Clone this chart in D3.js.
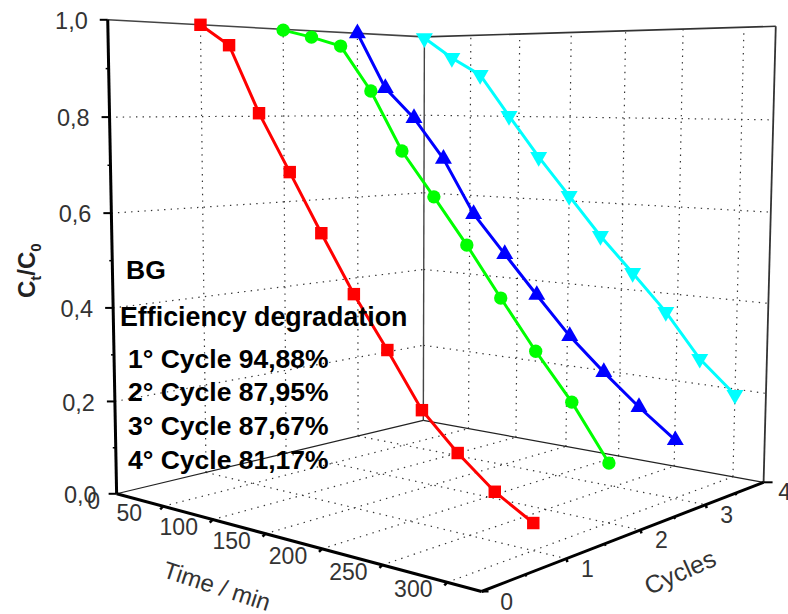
<!DOCTYPE html>
<html>
<head>
<meta charset="utf-8"/>
<style>
body { margin: 0; background: white; }
svg { display: block; font-family: "Liberation Sans", Arial, sans-serif; }
</style>
<script src="https://d3js.org/d3.v7.min.js"></script>
</head>
<body>
<script>
var width = 788, height = 614;
var svg = d3.select("body").append("svg").attr("width", width).attr("height", height);

// data
var time = [0, 30, 60, 90, 120, 150, 180, 210, 240, 270, 300];
var cycle1 = [1.000, 0.954, 0.809, 0.687, 0.564, 0.445, 0.340, 0.230, 0.158, 0.097, 0.053];
var cycle2 = [0.998, 0.980, 0.958, 0.858, 0.728, 0.632, 0.534, 0.429, 0.327, 0.233, 0.122];
var cycle3 = [1.000, 0.867, 0.796, 0.702, 0.577, 0.490, 0.404, 0.320, 0.250, 0.185, 0.126];
var cycle4 = [0.997, 0.945, 0.902, 0.801, 0.703, 0.612, 0.521, 0.440, 0.357, 0.258, 0.187];

var timeTicks = [0, 50, 100, 150, 200, 250, 300];
var cycleTicks = [0, 1, 2, 3, 4];
var cycleMinor = [0.5, 1.5, 2.5, 3.5];
var zTicks = [0, 0.2, 0.4, 0.6, 0.8, 1];
var zMinor = [0.1, 0.3, 0.5, 0.7, 0.9];
var notes = ["1° Cycle 94,88%", "2° Cycle 87,95%", "3° Cycle 87,67%", "4° Cycle 81,17%"];

var tMax = 325;
var tScale = d3.scaleLinear().domain([0, tMax]).range([0, 1]);
var cScale = d3.scaleLinear().domain([0, 4]).range([0, 1]);
var zScale = d3.scaleLinear().domain([0, 1]).range([0, 1]);

// where the box corners land on the page: unit x, y, z then pixel u, v
var corners = [
  [0, 0, 0, 116, 494], [1, 0, 0, 482, 591], [1, 1, 0, 763, 483], [0, 1, 0, 424, 420],
  [0, 0, 1, 108, 20], [0, 1, 1, 424, 37], [1, 1, 1, 776, 26]
];

// least squares fit of a perspective camera to the corners
function fit(pts) {
  var A = [], b = [];
  pts.forEach(function(p) {
    var X = p[0], Y = p[1], Z = p[2], u = p[3], v = p[4];
    A.push([X, Y, Z, 1, 0, 0, 0, 0, -u * X, -u * Y, -u * Z]); b.push(u);
    A.push([0, 0, 0, 0, X, Y, Z, 1, -v * X, -v * Y, -v * Z]); b.push(v);
  });
  var n = 11, M = [], i, j, k;
  for (i = 0; i < n; i++) {
    M.push([]);
    for (j = 0; j <= n; j++) {
      var s = 0;
      for (k = 0; k < A.length; k++) s += A[k][i] * (j < n ? A[k][j] : b[k]);
      M[i].push(s);
    }
  }
  for (i = 0; i < n; i++) {
    var m = i;
    for (k = i + 1; k < n; k++) if (Math.abs(M[k][i]) > Math.abs(M[m][i])) m = k;
    var tmp = M[i]; M[i] = M[m]; M[m] = tmp;
    for (k = 0; k < n; k++) {
      if (k != i) {
        var f = M[k][i] / M[i][i];
        for (j = i; j <= n; j++) M[k][j] -= f * M[i][j];
      }
    }
  }
  return d3.range(n).map(function(i) { return M[i][n] / M[i][i]; });
}
var P = fit(corners);

function project(t, c, z) {
  var X = tScale(t), Y = cScale(c), Z = zScale(z);
  var w = P[8] * X + P[9] * Y + P[10] * Z + 1;
  return [(P[0] * X + P[1] * Y + P[2] * Z + P[3]) / w, (P[4] * X + P[5] * Y + P[6] * Z + P[7]) / w];
}

var line = d3.line();
function seg(a, b, w, col, dash) {
  svg.append("path")
    .attr("d", line([project(a[0], a[1], a[2]), project(b[0], b[1], b[2])]))
    .attr("fill", "none")
    .attr("stroke", col)
    .attr("stroke-width", w)
    .attr("stroke-dasharray", dash || null);
}

// dotted grid on walls and floor
var dots = "1.4 5.2";
timeTicks.slice(1).forEach(function(t) {
  seg([t, 0, 0], [t, 4, 0], 1.2, "#333", dots);
  seg([t, 4, 0], [t, 4, 1], 1.2, "#333", dots);
});
[1, 2, 3].forEach(function(c) {
  seg([0, c, 0], [tMax, c, 0], 1.2, "#333", dots);
  seg([0, c, 0], [0, c, 1], 1.2, "#333", dots);
});
[0.2, 0.4, 0.6, 0.8].forEach(function(z) {
  seg([0, 0, z], [0, 4, z], 1.2, "#333", dots);
  seg([0, 4, z], [tMax, 4, z], 1.2, "#333", dots);
});

// box edges
seg([0, 0, 1], [0, 4, 1], 1.6, "#444");
seg([0, 4, 1], [tMax, 4, 1], 1.6, "#333");
seg([tMax, 4, 0], [tMax, 4, 1], 1.8, "#333");
seg([0, 4, 0], [0, 4, 1], 1.4, "#444");
seg([0, 0, 0], [0, 4, 0], 1.2, "#222");
seg([0, 4, 0], [tMax, 4, 0], 1.2, "#222");

// axes
seg([0, 0, 0], [0, 0, 1], 3, "#000");
seg([0, 0, 0], [tMax, 0, 0], 3, "#000");
seg([tMax, 0, 0], [tMax, 4, 0], 3, "#000");

function tick(p, dx, dy, w) {
  svg.append("path")
    .attr("d", line([p, [p[0] + dx, p[1] + dy]]))
    .attr("stroke", "#000")
    .attr("stroke-width", w);
}
zTicks.forEach(function(z) { tick(project(0, 0, z), -8, 0, 2); });
zMinor.forEach(function(z) { tick(project(0, 0, z), -3, 0, 1.5); });
timeTicks.slice(1).forEach(function(t) { tick(project(t, 0, 0), -3, 3, 2.5); });
cycleTicks.slice(1, 4).forEach(function(c) { tick(project(tMax, c, 0), 1, 3.5, 2.5); });
cycleMinor.forEach(function(c) { tick(project(tMax, c, 0), 1, 2, 2); });
tick(project(tMax, 4, 0), 9, 0, 2);
tick(project(tMax, 0, 0), 7, 0, 2);

// series, back to front
var series = [
  { c: 4, values: cycle4, color: "#00ffff", symbol: d3.symbolTriangle, size: 125, rot: 180 },
  { c: 3, values: cycle3, color: "#0000ff", symbol: d3.symbolTriangle, size: 125, rot: 0 },
  { c: 2, values: cycle2, color: "#00ff00", symbol: d3.symbolCircle, size: 140, rot: 0 },
  { c: 1, values: cycle1, color: "#ff0000", symbol: d3.symbolSquare, size: 155, rot: 0 }
];
series.forEach(function(s) {
  var pts = s.values.map(function(v, i) { return project(time[i], s.c, v); });
  svg.append("path")
    .attr("d", line(pts))
    .attr("fill", "none")
    .attr("stroke", s.color)
    .attr("stroke-width", 3);
  svg.selectAll(null)
    .data(pts)
    .enter()
    .append("path")
    .attr("d", d3.symbol().type(s.symbol).size(s.size))
    .attr("fill", s.color)
    .attr("transform", function(d) { return "translate(" + d + ") rotate(" + s.rot + ")"; });
});

// tick labels
function label(x, y, str, size, anchor) {
  return svg.append("text")
    .attr("x", x)
    .attr("y", y)
    .attr("dy", "0.35em")
    .attr("text-anchor", anchor || "middle")
    .attr("font-size", size)
    .attr("fill", "#333")
    .text(str);
}
var zFormat = d3.format(".1f");
zTicks.forEach(function(z) {
  var p = project(0, 0, z);
  label(p[0] - 20, p[1] + 1, zFormat(z).replace(".", ","), 23.5, "end");
});
timeTicks.forEach(function(t) {
  var p = project(t, 0, 0);
  label(p[0] + (t == 0 ? -23 : -34), p[1] + 7, t, 23);
});
cycleTicks.forEach(function(c) {
  var p = project(tMax, c, 0);
  label(p[0] + (c == 0 ? 25 : 21), p[1] + 10, c, 23);
});

// axis titles
label(0, 0, "Time / min", 24).attr("transform", "translate(217,586) rotate(18)");
label(0, 0, "Cycles", 25).attr("transform", "translate(680,572) rotate(-24)");

var yTitle = svg.append("text")
  .attr("transform", "translate(35,298) rotate(-90)")
  .attr("font-size", 24)
  .attr("font-weight", "bold")
  .attr("fill", "#222");
yTitle.append("tspan").text("C");
yTitle.append("tspan").attr("font-size", 15).attr("dy", 6).text("t");
yTitle.append("tspan").attr("dy", -6).text("/C");
yTitle.append("tspan").attr("font-size", 15).attr("dy", 6).text("0");

// annotation block
function note(x, y, str, size) {
  svg.append("text")
    .attr("x", x)
    .attr("y", y)
    .attr("font-size", size)
    .attr("font-weight", "bold")
    .attr("fill", "#000")
    .text(str);
}
note(126, 279, "BG", 26.5);
note(120, 326, "Efficiency degradation", 26.8);
var noteY = [368, 401, 435, 469];
notes.forEach(function(n, i) { note(128, noteY[i], n, 26.5); });
</script>
</body>
</html>
